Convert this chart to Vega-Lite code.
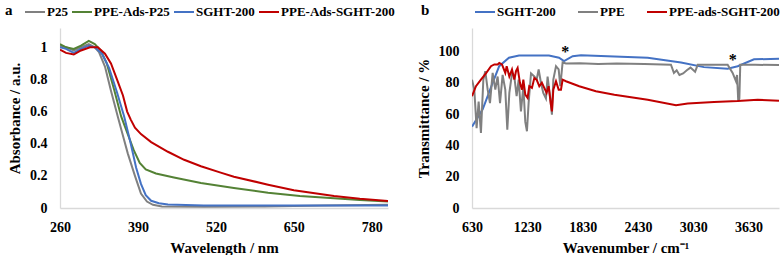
{
  "$schema": "https://vega.github.io/schema/vega-lite/v6.json",
  "padding": {"left": 5, "top": 1, "right": 2, "bottom": 0},
  "background": "white",
  "bounds": "flush",
  "spacing": 84,
  "datasets": {
    "uv": [
      {"s":"P25","x":260,"y":1.01},{"s":"P25","x":270,"y":1.0},{"s":"P25","x":283,"y":0.98},{"s":"P25","x":295,"y":1.0},{"s":"P25","x":308,"y":1.02},{"s":"P25","x":318,"y":1.0},{"s":"P25","x":325,"y":0.97},{"s":"P25","x":335,"y":0.88},{"s":"P25","x":345,"y":0.73},{"s":"P25","x":357,"y":0.56},{"s":"P25","x":365,"y":0.45},{"s":"P25","x":373,"y":0.34},{"s":"P25","x":385,"y":0.2},{"s":"P25","x":395,"y":0.09},{"s":"P25","x":405,"y":0.04},{"s":"P25","x":415,"y":0.02},{"s":"P25","x":430,"y":0.01},{"s":"P25","x":500,"y":0.008},{"s":"P25","x":600,"y":0.01},{"s":"P25","x":700,"y":0.015},{"s":"P25","x":807,"y":0.02},
      {"s":"PPE-Ads-P25","x":260,"y":1.02},{"s":"PPE-Ads-P25","x":270,"y":1.0},{"s":"PPE-Ads-P25","x":283,"y":0.99},{"s":"PPE-Ads-P25","x":295,"y":1.01},{"s":"PPE-Ads-P25","x":308,"y":1.04},{"s":"PPE-Ads-P25","x":318,"y":1.02},{"s":"PPE-Ads-P25","x":328,"y":0.98},{"s":"PPE-Ads-P25","x":338,"y":0.9},{"s":"PPE-Ads-P25","x":350,"y":0.74},{"s":"PPE-Ads-P25","x":362,"y":0.57},{"s":"PPE-Ads-P25","x":373,"y":0.46},{"s":"PPE-Ads-P25","x":383,"y":0.36},{"s":"PPE-Ads-P25","x":393,"y":0.28},{"s":"PPE-Ads-P25","x":403,"y":0.24},{"s":"PPE-Ads-P25","x":420,"y":0.215},{"s":"PPE-Ads-P25","x":450,"y":0.19},{"s":"PPE-Ads-P25","x":495,"y":0.155},{"s":"PPE-Ads-P25","x":550,"y":0.125},{"s":"PPE-Ads-P25","x":607,"y":0.095},{"s":"PPE-Ads-P25","x":660,"y":0.075},{"s":"PPE-Ads-P25","x":717,"y":0.06},{"s":"PPE-Ads-P25","x":760,"y":0.05},{"s":"PPE-Ads-P25","x":807,"y":0.04},
      {"s":"SGHT-200","x":260,"y":1.0},{"s":"SGHT-200","x":270,"y":0.99},{"s":"SGHT-200","x":283,"y":0.965},{"s":"SGHT-200","x":295,"y":0.99},{"s":"SGHT-200","x":308,"y":1.01},{"s":"SGHT-200","x":318,"y":1.0},{"s":"SGHT-200","x":330,"y":0.96},{"s":"SGHT-200","x":342,"y":0.87},{"s":"SGHT-200","x":355,"y":0.72},{"s":"SGHT-200","x":367,"y":0.57},{"s":"SGHT-200","x":378,"y":0.4},{"s":"SGHT-200","x":387,"y":0.25},{"s":"SGHT-200","x":395,"y":0.15},{"s":"SGHT-200","x":403,"y":0.08},{"s":"SGHT-200","x":412,"y":0.045},{"s":"SGHT-200","x":425,"y":0.03},{"s":"SGHT-200","x":440,"y":0.022},{"s":"SGHT-200","x":500,"y":0.015},{"s":"SGHT-200","x":807,"y":0.015},
      {"s":"PPE-Ads-SGHT-200","x":260,"y":0.985},{"s":"PPE-Ads-SGHT-200","x":270,"y":0.965},{"s":"PPE-Ads-SGHT-200","x":283,"y":0.955},{"s":"PPE-Ads-SGHT-200","x":295,"y":0.98},{"s":"PPE-Ads-SGHT-200","x":310,"y":1.0},{"s":"PPE-Ads-SGHT-200","x":323,"y":1.0},{"s":"PPE-Ads-SGHT-200","x":335,"y":0.96},{"s":"PPE-Ads-SGHT-200","x":345,"y":0.9},{"s":"PPE-Ads-SGHT-200","x":355,"y":0.8},{"s":"PPE-Ads-SGHT-200","x":365,"y":0.7},{"s":"PPE-Ads-SGHT-200","x":372,"y":0.6},{"s":"PPE-Ads-SGHT-200","x":378,"y":0.55},{"s":"PPE-Ads-SGHT-200","x":385,"y":0.5},{"s":"PPE-Ads-SGHT-200","x":395,"y":0.46},{"s":"PPE-Ads-SGHT-200","x":412,"y":0.41},{"s":"PPE-Ads-SGHT-200","x":440,"y":0.35},{"s":"PPE-Ads-SGHT-200","x":467,"y":0.3},{"s":"PPE-Ads-SGHT-200","x":495,"y":0.26},{"s":"PPE-Ads-SGHT-200","x":528,"y":0.22},{"s":"PPE-Ads-SGHT-200","x":550,"y":0.195},{"s":"PPE-Ads-SGHT-200","x":607,"y":0.145},{"s":"PPE-Ads-SGHT-200","x":650,"y":0.11},{"s":"PPE-Ads-SGHT-200","x":717,"y":0.075},{"s":"PPE-Ads-SGHT-200","x":760,"y":0.058},{"s":"PPE-Ads-SGHT-200","x":807,"y":0.044}
    ],
    "ftir": [
      {"s":"SGHT-200","x":630,"y":52},{"s":"SGHT-200","x":746,"y":63},{"s":"SGHT-200","x":854,"y":80},{"s":"SGHT-200","x":925,"y":90.6},{"s":"SGHT-200","x":1031,"y":96},{"s":"SGHT-200","x":1140,"y":97.4},{"s":"SGHT-200","x":1465,"y":97.4},{"s":"SGHT-200","x":1574,"y":96},{"s":"SGHT-200","x":1628,"y":93.8},{"s":"SGHT-200","x":1722,"y":97},{"s":"SGHT-200","x":1812,"y":97.6},{"s":"SGHT-200","x":2536,"y":96},{"s":"SGHT-200","x":2897,"y":93},{"s":"SGHT-200","x":3146,"y":90},{"s":"SGHT-200","x":3403,"y":89},{"s":"SGHT-200","x":3512,"y":90.6},{"s":"SGHT-200","x":3689,"y":95},{"s":"SGHT-200","x":3960,"y":95.3},
      {"s":"PPE","x":630,"y":82},{"s":"PPE","x":655,"y":75.6},{"s":"PPE","x":680,"y":51},{"s":"PPE","x":702,"y":68},{"s":"PPE","x":727,"y":48},{"s":"PPE","x":753,"y":82},{"s":"PPE","x":774,"y":87.4},{"s":"PPE","x":800,"y":75.6},{"s":"PPE","x":825,"y":67},{"s":"PPE","x":854,"y":86.3},{"s":"PPE","x":883,"y":75.6},{"s":"PPE","x":908,"y":84},{"s":"PPE","x":934,"y":67},{"s":"PPE","x":962,"y":85},{"s":"PPE","x":991,"y":75.6},{"s":"PPE","x":1013,"y":50},{"s":"PPE","x":1035,"y":73.5},{"s":"PPE","x":1064,"y":86},{"s":"PPE","x":1089,"y":84},{"s":"PPE","x":1114,"y":71.4},{"s":"PPE","x":1136,"y":82},{"s":"PPE","x":1161,"y":61.7},{"s":"PPE","x":1187,"y":77.8},{"s":"PPE","x":1208,"y":55},{"s":"PPE","x":1226,"y":49},{"s":"PPE","x":1244,"y":67},{"s":"PPE","x":1270,"y":86},{"s":"PPE","x":1306,"y":84},{"s":"PPE","x":1331,"y":82},{"s":"PPE","x":1353,"y":88.5},{"s":"PPE","x":1378,"y":80},{"s":"PPE","x":1403,"y":73.5},{"s":"PPE","x":1432,"y":70},{"s":"PPE","x":1450,"y":84},{"s":"PPE","x":1476,"y":71.4},{"s":"PPE","x":1497,"y":59.6},{"s":"PPE","x":1512,"y":82},{"s":"PPE","x":1541,"y":90.6},{"s":"PPE","x":1570,"y":88.5},{"s":"PPE","x":1588,"y":77.8},{"s":"PPE","x":1613,"y":93},{"s":"PPE","x":1649,"y":92.3},{"s":"PPE","x":1800,"y":92.5},{"s":"PPE","x":2000,"y":92},{"s":"PPE","x":2200,"y":92.3},{"s":"PPE","x":2500,"y":92},{"s":"PPE","x":2788,"y":91.5},{"s":"PPE","x":2820,"y":86.3},{"s":"PPE","x":2850,"y":88},{"s":"PPE","x":2880,"y":85},{"s":"PPE","x":2920,"y":86},{"s":"PPE","x":2960,"y":88},{"s":"PPE","x":3000,"y":89.7},{"s":"PPE","x":3050,"y":87},{"s":"PPE","x":3078,"y":91.5},{"s":"PPE","x":3200,"y":91.5},{"s":"PPE","x":3403,"y":91.5},{"s":"PPE","x":3457,"y":86.3},{"s":"PPE","x":3493,"y":81},{"s":"PPE","x":3505,"y":85},{"s":"PPE","x":3518,"y":68.3},{"s":"PPE","x":3530,"y":70},{"s":"PPE","x":3540,"y":91.5},{"s":"PPE","x":3700,"y":91.5},{"s":"PPE","x":3960,"y":91.3},
      {"s":"PPE-ads-SGHT-200","x":630,"y":71.4},{"s":"PPE-ads-SGHT-200","x":673,"y":77.8},{"s":"PPE-ads-SGHT-200","x":727,"y":82},{"s":"PPE-ads-SGHT-200","x":781,"y":86},{"s":"PPE-ads-SGHT-200","x":836,"y":90.6},{"s":"PPE-ads-SGHT-200","x":872,"y":91.7},{"s":"PPE-ads-SGHT-200","x":908,"y":91.7},{"s":"PPE-ads-SGHT-200","x":926,"y":92.7},{"s":"PPE-ads-SGHT-200","x":955,"y":91.7},{"s":"PPE-ads-SGHT-200","x":970,"y":89.5},{"s":"PPE-ads-SGHT-200","x":991,"y":86.3},{"s":"PPE-ads-SGHT-200","x":1006,"y":90.6},{"s":"PPE-ads-SGHT-200","x":1035,"y":84},{"s":"PPE-ads-SGHT-200","x":1064,"y":88.5},{"s":"PPE-ads-SGHT-200","x":1089,"y":82},{"s":"PPE-ads-SGHT-200","x":1107,"y":87.4},{"s":"PPE-ads-SGHT-200","x":1125,"y":89.5},{"s":"PPE-ads-SGHT-200","x":1150,"y":80},{"s":"PPE-ads-SGHT-200","x":1172,"y":75.6},{"s":"PPE-ads-SGHT-200","x":1187,"y":82},{"s":"PPE-ads-SGHT-200","x":1208,"y":72.4},{"s":"PPE-ads-SGHT-200","x":1233,"y":70.3},{"s":"PPE-ads-SGHT-200","x":1251,"y":77.8},{"s":"PPE-ads-SGHT-200","x":1280,"y":76.7},{"s":"PPE-ads-SGHT-200","x":1306,"y":83},{"s":"PPE-ads-SGHT-200","x":1331,"y":82},{"s":"PPE-ads-SGHT-200","x":1360,"y":77.8},{"s":"PPE-ads-SGHT-200","x":1388,"y":80},{"s":"PPE-ads-SGHT-200","x":1414,"y":76.7},{"s":"PPE-ads-SGHT-200","x":1439,"y":73.5},{"s":"PPE-ads-SGHT-200","x":1461,"y":77.8},{"s":"PPE-ads-SGHT-200","x":1486,"y":66},{"s":"PPE-ads-SGHT-200","x":1497,"y":61.7},{"s":"PPE-ads-SGHT-200","x":1512,"y":75.6},{"s":"PPE-ads-SGHT-200","x":1541,"y":81},{"s":"PPE-ads-SGHT-200","x":1570,"y":75.6},{"s":"PPE-ads-SGHT-200","x":1595,"y":75.6},{"s":"PPE-ads-SGHT-200","x":1613,"y":82},{"s":"PPE-ads-SGHT-200","x":1649,"y":81},{"s":"PPE-ads-SGHT-200","x":1793,"y":77.8},{"s":"PPE-ads-SGHT-200","x":1974,"y":74.6},{"s":"PPE-ads-SGHT-200","x":2174,"y":72.4},{"s":"PPE-ads-SGHT-200","x":2536,"y":69.2},{"s":"PPE-ads-SGHT-200","x":2843,"y":65.6},{"s":"PPE-ads-SGHT-200","x":2970,"y":66.7},{"s":"PPE-ads-SGHT-200","x":3255,"y":67.7},{"s":"PPE-ads-SGHT-200","x":3512,"y":68.3},{"s":"PPE-ads-SGHT-200","x":3729,"y":69.2},{"s":"PPE-ads-SGHT-200","x":3960,"y":68.6}
    ],
    "stars": [
      {"x":1642,"y":99.6,"t":"*"},{"x":3457,"y":94.4,"t":"*"}
    ]
  },
  "hconcat": [
    {
      "width": 328,
      "height": 180,
      "data": {"name": "uv"},
      "mark": {"type": "line", "strokeWidth": 2, "clip": true},
      "encoding": {
        "x": {"field": "x", "type": "quantitative", "scale": {"domain": [260, 807], "nice": false, "zero": false},
              "axis": {"values": [260, 390, 520, 650, 780], "title": "Wavelength / nm", "labelOverlap": false}},
        "y": {"field": "y", "type": "quantitative", "scale": {"domain": [0, 1.12], "nice": false},
              "axis": {"values": [0, 0.2, 0.4, 0.6, 0.8, 1], "format": "~g", "title": "Absorbance / a.u.", "labelOverlap": false}},
        "color": {"field": "s", "type": "nominal",
                  "scale": {"domain": ["P25", "PPE-Ads-P25", "SGHT-200", "PPE-Ads-SGHT-200"], "range": ["#808080", "#548235", "#4472c4", "#c00000"]},
                  "legend": {"orient": "none", "direction": "horizontal", "legendX": -55, "legendY": -27, "title": "a", "titleOrient": "left", "titlePadding": 11, "columnPadding": 0, "labelOffset": 1}}
      }
    },
    {
      "width": 307,
      "height": 180,
      "encoding": {
        "x": {"field": "x", "type": "quantitative", "scale": {"domain": [630, 3960], "nice": false, "zero": false},
              "axis": {"values": [630, 1230, 1830, 2430, 3030, 3630], "format": "d", "title": "Wavenumber / cm⁻¹", "labelOverlap": false}},
        "y": {"field": "y", "type": "quantitative", "scale": {"domain": [0, 115], "nice": false},
              "axis": {"values": [0, 20, 40, 60, 80, 100], "format": "d", "title": "Transmittance / %", "labelOverlap": false, "labelSeparation": 0}}
      },
      "layer": [
        {
          "data": {"name": "ftir"},
          "mark": {"type": "line", "strokeWidth": 2, "clip": true},
          "encoding": {
            "color": {"field": "s", "type": "nominal",
                      "scale": {"domain": ["SGHT-200", "PPE", "PPE-ads-SGHT-200"], "range": ["#4472c4", "#808080", "#c00000"]},
                      "legend": {"orient": "none", "direction": "horizontal", "legendX": -51, "legendY": -27, "title": "b", "titleOrient": "left", "titlePadding": 44, "columnPadding": 18, "labelOffset": 1}}
          }
        },
        {
          "data": {"name": "stars"},
          "mark": {"type": "text", "font": "Liberation Serif", "fontWeight": "bold", "fontSize": 16, "baseline": "middle", "align": "center", "color": "black"},
          "encoding": {
            "text": {"field": "t"}
          }
        }
      ]
    }
  ],
  "resolve": {"scale": {"color": "independent", "x": "independent", "y": "independent"}, "legend": {"color": "independent"}},
  "config": {
    "view": {"stroke": null},
    "font": "Liberation Serif",
    "axis": {
      "grid": false, "ticks": false, "labelOverlap": false, "labelFlush": false,
      "domainColor": "#d9d9d9", "domainWidth": 1.3,
      "labelFont": "Liberation Serif", "labelFontWeight": "bold", "labelFontSize": 14, "labelColor": "black",
      "titleFont": "Liberation Serif", "titleFontWeight": "bold", "titleFontSize": 15, "titleColor": "black"
    },
    "axisX": {"labelPadding": 12, "titlePadding": 6},
    "axisY": {"labelPadding": 13, "titlePadding": 7},
    "legend": {
      "labelFont": "Liberation Serif", "labelFontWeight": "bold", "labelFontSize": 13, "labelColor": "black",
      "titleFont": "Liberation Serif", "titleFontWeight": "bold", "titleFontSize": 15, "titleColor": "black",
      "symbolType": "stroke", "symbolStrokeWidth": 2, "symbolSize": 400
    }
  }
}
